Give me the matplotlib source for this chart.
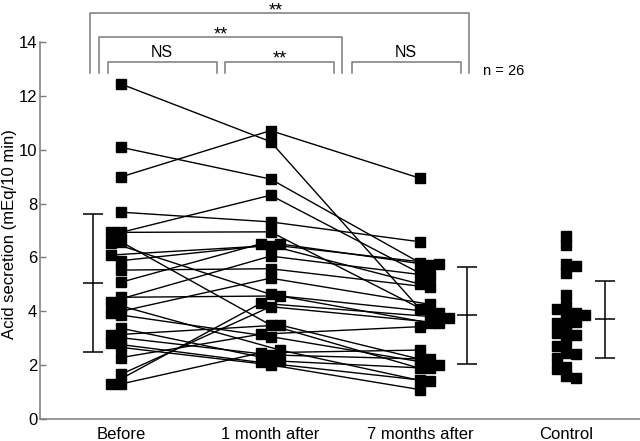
import matplotlib
matplotlib.use("Agg")
import matplotlib.pyplot as plt

plt.rcParams.update(
    {
        "font.family": ["Liberation Sans", "DejaVu Sans"],
        "font.size": 12,
    }
)

GREY = "#7a7a7a"

# ---- data (one entry per patient, same order in each list) ----
group_labels = ["Before", "1 month after", "7 months after", "Control"]

before = [12.44, 10.09, 8.99, 7.68, 6.93, 6.93, 6.58, 6.55, 6.09, 5.88, 5.53, 5.08, 4.52,
          4.36, 4.20, 3.92, 3.86, 3.37, 3.12, 3.02, 2.81, 2.66, 2.28, 1.66, 1.30, 1.30]
month1 = [10.30, 8.91, 10.71, 7.32, 8.31, 6.95, 3.49, 4.63, 6.44, 6.50, 5.58, 6.51, 4.57,
          6.05, 2.56, 5.23, 3.06, 2.15, 3.49, 2.38, 2.10, 2.01, 3.15, 4.17, 4.30, 2.46]
month7 = [4.08, 5.80, 8.94, 6.58, 5.41, 3.93, 1.88, 3.57, 5.01, 5.72, 4.89, 5.76, 3.95,
          5.32, 1.43, 4.26, 2.01, 1.88, 2.22, 2.22, 1.41, 1.09, 3.43, 3.57, 3.75, 2.56]
control = [6.81, 6.46, 5.76, 5.68, 5.41, 4.60, 4.20, 4.07, 3.86, 3.95, 3.86, 3.61, 3.55,
           3.53, 3.18, 3.18, 3.12, 2.87, 2.71, 2.46, 2.40, 2.25, 1.94, 1.85, 1.60, 1.51]

# mean and SD bars as printed (Before, 7 months after, Control)
bar_means = [5.04, 3.86, 3.71]
bar_sds = [2.57, 1.80, 1.43]

# ---- layout: side-by-side slots for overlapping squares ----
slot_before = [0, 0, 0, 0, 0, -1, 0, -1, -1, 0, 0, 0, 0,
               -1, 0, -1, 0, 0, -1, 0, -1, 0, 0, 0, -1, 0]
slot_month1 = [0, 0, 0, 0, 0, 0, 0, 0, 0, 1, 0, -1, 1,
               0, 1, 0, 0, 1, 1, 0, -1, 0, -1, 0, -1, -1]
slot_month7 = [0, 0, 0, 0, 0, 1, 0, 1, 0, 1, 1, 2, 2,
               1, 0, 1, 2, 1, 0, 1, 1, 0, 0, 2, 3, 0]
slot_control = [0, 0, 0, 1, 0, 0, 0, -1, 0, 1, 2, 1, -1,
                0, -1, 0, 1, 0, -1, 0, 1, -1, 0, -1, 0, 1]

xpos = [0, 1, 2, 2.977]
step = 0.064
bar_x = [-0.185, 2.312, 3.237]

fig = plt.figure(figsize=(6.4, 4.41), dpi=100)
ax = fig.add_axes([40 / 640, 22 / 441, 600 / 640, 377 / 441])
ax.set_xlim(-0.5418, 3.471)
ax.set_ylim(0, 14)

# patient lines
for b, m, s, sb, sm, ss in zip(before, month1, month7, slot_before, slot_month1, slot_month7):
    xs = [xpos[0] + sb * step, xpos[1] + sm * step, xpos[2] + ss * step]
    ax.plot(xs, [b, m, s], color="black", lw=1.0, zorder=2)

mk = dict(marker="s", ms=6.6, color="black", ls="none", zorder=3, clip_on=False)
for vals, slots, x0 in [(before, slot_before, xpos[0]), (month1, slot_month1, xpos[1]),
                        (month7, slot_month7, xpos[2]), (control, slot_control, xpos[3])]:
    ax.plot([x0 + s * step for s in slots], vals, **mk)

# mean +/- SD
ax.errorbar(bar_x, bar_means, yerr=bar_sds, fmt="_", ms=14.5, mew=1.1, capsize=7.2,
            capthick=1.1, elinewidth=1.1, color="black", zorder=2)

# significance brackets (drawn above the axes)
brackets = [(-0.207, 2.328, 15.09), (-0.147, 1.48, 14.17), (-0.09, 0.64, 13.27),
            (0.696, 1.425, 13.27), (1.543, 2.274, 13.27)]
leg_bottom = 12.84
for x0, x1, ytop in brackets:
    ax.plot([x0, x0, x1, x1], [leg_bottom, ytop, ytop, leg_bottom], color=GREY,
            lw=1.1, clip_on=False)

stars = [(1.037, 15.0), (0.669, 14.11), (1.064, 13.2)]
for x, y in stars:
    ax.text(x, y, "**", ha="center", va="baseline", fontsize=13, clip_on=False)
for x in [0.274, 1.906]:
    ax.text(x, 13.44, "NS", ha="center", va="baseline", fontsize=11.5, clip_on=False)
ax.text(2.421, 12.94, "n = 26", ha="left", va="center", fontsize=10.5)

ax.set_yticks(range(0, 15, 2))
ax.set_xticks(xpos)
ax.set_xticklabels(group_labels)
ax.tick_params(axis="y", direction="in", length=4.5, width=1, color=GREY, pad=2)
ax.tick_params(axis="x", length=0, pad=6)
for side in ["top", "right"]:
    ax.spines[side].set_visible(False)
for side in ["left", "bottom"]:
    ax.spines[side].set_color(GREY)
    ax.spines[side].set_linewidth(1.1)

fig.text(10 / 640, 1 - 234 / 441, "Acid secretion (mEq/10 min)", rotation=90,
         ha="center", va="center", fontsize=12)

fig.savefig("out.png", dpi=100)
